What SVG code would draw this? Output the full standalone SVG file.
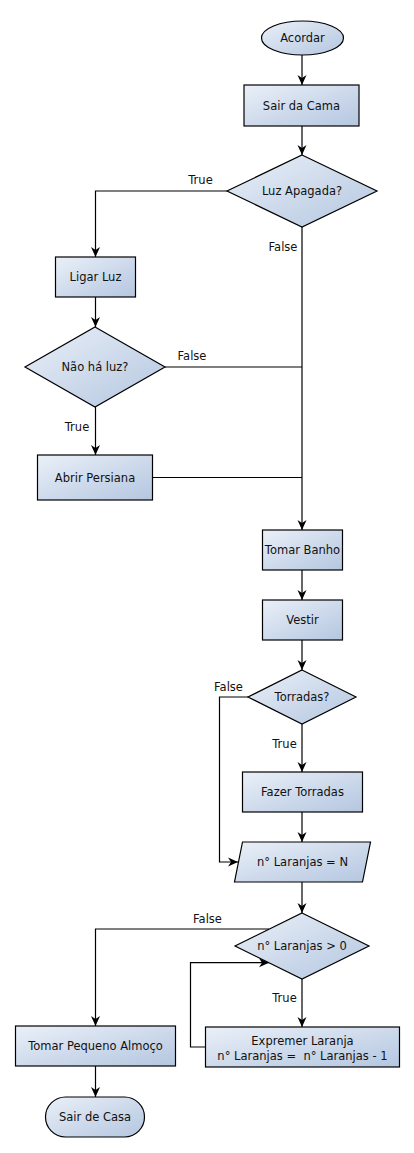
<svg xmlns="http://www.w3.org/2000/svg" width="414" height="1153" viewBox="0 0 414 1153">
<defs>
<linearGradient id="g" x1="0" y1="0" x2="1" y2="1">
<stop offset="0" stop-color="#eaf0f8"/>
<stop offset="1" stop-color="#b4c6e0"/>
</linearGradient>
<marker id="arr" markerWidth="12" markerHeight="10" refX="10" refY="5" orient="auto" markerUnits="userSpaceOnUse">
<path d="M0,0.5 L10,5 L0,9.5 L3,5 Z" fill="#000"/>
</marker>
<style>
.n{fill:url(#g);stroke:#000;stroke-width:1.2}
.t{font-family:"DejaVu Sans",sans-serif;font-size:11.5px;fill:#111;text-anchor:middle}
.c{fill:none;stroke:#000;stroke-width:1.2}
.a{marker-end:url(#arr)}
</style>
</defs>
<rect width="414" height="1153" fill="#fff"/>
<g id="connectors">
<path class="c a" d="M302,55 V85"/>
<path class="c a" d="M302,126 V155"/>
<path class="c a" d="M227,191 H95.5 V257"/>
<path class="c a" d="M302,227 V530"/>
<path class="c a" d="M95.5,297 V327"/>
<path class="c" d="M165,367 H302"/>
<path class="c a" d="M95.5,407 V455"/>
<path class="c" d="M152,477.5 H302"/>
<path class="c a" d="M302,570 V600"/>
<path class="c a" d="M302,640 V670"/>
<path class="c a" d="M248,697 H219.5 V862 H238"/>
<path class="c a" d="M302,724 V772"/>
<path class="c a" d="M302,812 V842"/>
<path class="c a" d="M302,882 V913"/>
<path class="c a" d="M269,929 H95.5 V1026"/>
<path class="c a" d="M302,979 V1027"/>
<path class="c a" d="M205,1047 H190.5 V962.7 H269"/>
<path class="c a" d="M95.5,1066 V1097"/>
<text class="t" x="200.5" y="184">True</text>
<text class="t" x="283" y="251">False</text>
<text class="t" x="192" y="360">False</text>
<text class="t" x="77" y="431">True</text>
<text class="t" x="228.5" y="691">False</text>
<text class="t" x="284.5" y="748">True</text>
<text class="t" x="207.5" y="923">False</text>
<text class="t" x="284.5" y="1002">True</text>
</g>
<g id="acordar"><ellipse class="n" cx="302.5" cy="38" rx="41" ry="17"/><text class="t" x="302.5" y="42">Acordar</text></g>
<g id="sair-cama"><rect class="n" x="244" y="85" width="115" height="41"/><text class="t" x="301.5" y="109.5">Sair da Cama</text></g>
<g id="luz-apagada"><polygon class="n" points="302,155 377,191 302,227 227,191"/><text class="t" x="302" y="195">Luz Apagada?</text></g>
<g id="ligar-luz"><rect class="n" x="55.5" y="257" width="80" height="40"/><text class="t" x="95.5" y="281">Ligar Luz</text></g>
<g id="nao-ha-luz"><polygon class="n" points="95,327 165,367 95,407 25,367"/><text class="t" x="95" y="371">Não há luz?</text></g>
<g id="abrir-persiana"><rect class="n" x="37.5" y="455" width="115" height="45"/><text class="t" x="95" y="481.5">Abrir Persiana</text></g>
<g id="tomar-banho"><rect class="n" x="262.5" y="530" width="80" height="40"/><text class="t" x="302.5" y="554">Tomar Banho</text></g>
<g id="vestir"><rect class="n" x="262.5" y="600" width="80" height="40"/><text class="t" x="302.5" y="624">Vestir</text></g>
<g id="torradas"><polygon class="n" points="302,670 356,697 302,724 248,697"/><text class="t" x="302" y="701">Torradas?</text></g>
<g id="fazer-torradas"><rect class="n" x="242.5" y="772" width="120" height="40"/><text class="t" x="302.5" y="796">Fazer Torradas</text></g>
<g id="laranjas-n"><polygon class="n" points="242.5,842 370.5,842 362.5,882 234.5,882"/><text class="t" x="302.5" y="866">n° Laranjas = N</text></g>
<g id="laranjas-gt0"><polygon class="n" points="302,913 369,946 302,979 235,946"/><text class="t" x="302" y="950">n° Laranjas &gt; 0</text></g>
<g id="expremer"><rect class="n" x="205.5" y="1027" width="194" height="40"/><text class="t" x="302.5" y="1044.5">Expremer Laranja</text><text class="t" x="302.5" y="1059.5" xml:space="preserve">n° Laranjas =  n° Laranjas - 1</text></g>
<g id="pequeno-almoco"><rect class="n" x="15.5" y="1026" width="160" height="40"/><text class="t" x="95.5" y="1050">Tomar Pequeno Almoço</text></g>
<g id="sair-casa"><rect class="n" x="45.5" y="1097" width="99" height="40" rx="20" ry="20"/><text class="t" x="95" y="1121">Sair de Casa</text></g>
</svg>
